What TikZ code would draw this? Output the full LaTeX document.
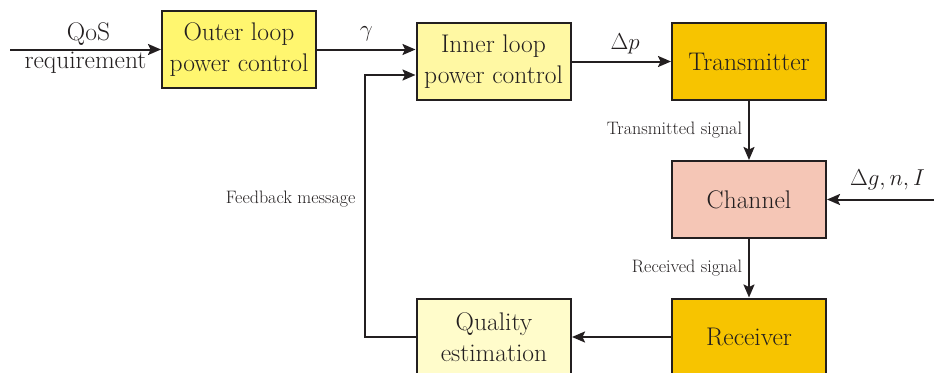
\RequirePackage{fix-cm}
\documentclass[tikz,border=0pt]{standalone}
\usepackage{fontspec}
\usetikzlibrary{arrows.meta}
\definecolor{ink}{HTML}{231F20}
\definecolor{outerfill}{HTML}{FFF66F}
\definecolor{innerfill}{HTML}{FFF8A3}
\definecolor{qualfill}{HTML}{FFFCCB}
\definecolor{goldfill}{HTML}{F7C400}
\definecolor{chanfill}{HTML}{F5C6B6}
\tikzset{
  block/.style={draw=ink, line width=2pt, minimum width=154pt, minimum height=77pt,
    inner sep=1pt, align=center, text=ink,
    font=\fontsize{25.5}{31}\selectfont},
  arr/.style={draw=ink, line width=2pt, -{Stealth[length=13pt,width=11pt,inset=2.5pt]}},
  lbl/.style={text=ink, font=\fontsize{18}{22}\selectfont},
  biglbl/.style={text=ink, font=\fontsize{25.5}{30}\selectfont},
  mathlbl/.style={text=ink, font=\fontsize{23}{28}\selectfont},
}
\begin{document}
\begin{tikzpicture}[x=1pt,y=-1pt]
  \useasboundingbox (0,0) rectangle (934,372);

  % blocks
  \node[block, fill=outerfill] (outer) at (239,49.5) {Outer loop\\power control};
  \node[block, fill=innerfill] (inner) at (493.5,61.5) {Inner loop\\power control};
  \node[block, fill=goldfill] (tx) at (749,61.5) {Transmitter};
  \node[block, fill=chanfill] (ch) at (749,199.5) {Channel};
  \node[block, fill=goldfill] (rx) at (749,337) {Receiver};
  \node[block, fill=qualfill] (qual) at (494,337) {Quality\\estimation};

  % free ends
  \coordinate (qos) at (10,49.5);
  \coordinate (dist) at (934,199.5);

  % connectors
  \draw[arr] (qos) -- (outer.west)
    node[midway, above, biglbl, inner sep=3pt, xshift=3pt] {QoS}
    node[midway, below, biglbl, inner sep=2pt] {requirement};
  \draw[arr] (outer.east) -- (outer.east -| inner.west)
    node[midway, above, mathlbl, yshift=4pt] {$\gamma$};
  \draw[arr] (inner.east) -- (tx.west)
    node[midway, above, mathlbl, xshift=4pt, yshift=3pt] {$\Delta p$};
  \draw[arr] (tx.south) -- (ch.north)
    node[midway, left, lbl, inner sep=6pt] {Transmitted signal};
  \draw[arr] (dist) -- (ch.east)
    node[midway, above, mathlbl, xshift=7pt, yshift=5pt] {$\Delta g, n, I$};
  \draw[arr] (ch.south) -- (rx.north)
    node[midway, left, lbl, inner sep=6pt] {Received signal};
  \draw[arr] (rx.west) -- (qual.east);
  \draw[arr] (qual.west) -- ++(-51,0) coordinate (fbcorner)
    |- ([yshift=-13.5pt]inner.west);
  \node[lbl, anchor=east] (fblbl) at ([xshift=-6pt]fbcorner |- ch.center) {Feedback message};
\end{tikzpicture}
\end{document}
